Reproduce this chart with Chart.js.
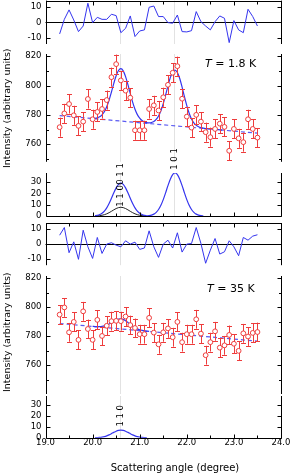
<!DOCTYPE html>
<html>
<head>
<meta charset="utf-8">
<script src="https://cdn.jsdelivr.net/npm/chart.js@4"></script>
<style>
    html, body { margin: 0; padding: 0; background: #fff; }
    #wrap { position: relative; width: 291px; height: 475px; overflow: hidden; }
    #wrap canvas { position: absolute; left: 0; }
</style>
</head>
<body>
<div id="wrap"></div>
<script>
const ANGLE = [19.3, 19.4, 19.5, 19.6, 19.7, 19.8, 19.9, 20.0, 20.1, 20.2, 20.3, 20.4, 20.5, 20.6, 20.7,
    20.8, 20.9, 21.0, 21.1, 21.2, 21.3, 21.4, 21.5, 21.6, 21.7, 21.8, 21.9, 22.0, 22.1, 22.2, 22.3,
    22.4, 22.5, 22.6, 22.7, 22.8, 22.9, 23.0, 23.1, 23.2, 23.3, 23.4, 23.5];

const INT_18K = [771.6, 781.0, 787.4, 779.7, 772.5, 775.4, 790.8, 777.0, 782.0, 784.0, 790.1, 805.7, 814.6,
    803.5, 796.5, 791.7, 769.5, 769.5, 769.5, 784.0, 786.5, 783.0, 792.0, 800.5, 808.7, 813.2, 791.0,
    778.8, 771.3, 780.0, 775.4, 768.2, 764.8, 770.4, 774.0, 771.8, 755.5, 770.4, 764.0, 761.4, 777.0,
    770.4, 764.5];
const INT_35K = [794.8, 799.8, 782.6, 789.8, 777.4, 797.1, 784.9, 777.4, 791.2, 780.1, 787.1, 790.3, 790.5,
    790.3, 793.5, 787.6, 785.6, 781.3, 781.3, 792.6, 782.4, 774.3, 782.6, 785.3, 779.2, 789.8, 775.8,
    781.3, 781.3, 791.6, 781.7, 766.8, 775.8, 783.3, 772.0, 773.6, 780.8, 774.7, 769.8, 781.9, 779.7,
    782.2, 782.8];
const ERR_18K = 6.5;
const ERR_35K = 6.5;

const RES_18K = [-7.5, 1.9, 8.0, 1.5, -6.0, -2.4, 12.3, -0.2, 3.2, 1.9, 1.9, 5.2, 4.3, -6.7, -3.9, 4.1, -9.2,
    -5.6, -4.9, 9.7, 10.5, 3.7, 3.7, -0.2, -0.6, 4.7, -6.0, -6.2, -5.4, 6.9, 0.4, -2.4, -4.9, 0.4, 4.1,
    2.6, -13.1, 1.1, -4.9, -6.7, 8.4, 3.7, -2.4];
const RES_35K = [5.9, 11.0, -5.7, 1.5, -10.1, 9.2, -1.8, -9.5, 4.4, -6.2, 0, 0.9, -0.7, -1.8, 2.2, 0, 1.3,
    -3.5, -2.6, 8.8, -1.8, -8.8, 0, 2.6, -2.6, 7.5, -5.3, 0, 0.4, 11.0, 0.4, -12.7, -4.0, 3.7, -6.6,
    -5.1, 2.2, -1.8, -7.7, 4.4, 2.6, 5.3, 6.2];

// dashed background lines (end points)
const BG_X = [19.3, 23.5];
const BG_18K = [779.5, 767.5];
const BG_35K = [788.7, 776.5];

// fitted curves
const FIT_18K_X = [19.95, 20.00, 20.05, 20.10, 20.15, 20.20, 20.25, 20.30, 20.35, 20.40, 20.45, 20.50, 20.55,
    20.60, 20.65, 20.70, 20.75, 20.80, 20.85, 20.90, 20.95, 21.00, 21.05, 21.10, 21.15, 21.20, 21.25,
    21.30, 21.35, 21.40, 21.45, 21.50, 21.55, 21.60, 21.65, 21.70, 21.75, 21.80, 21.85, 21.90, 21.95,
    22.00, 22.05, 22.10, 22.15, 22.20, 22.25, 22.30, 22.35, 22.40, 22.50, 22.75];
const FIT_18K = [777.7, 777.64, 777.70, 777.98, 778.68, 780.05, 782.17, 785.53, 790.10, 795.60, 801.45, 806.66,
    810.27, 811.48, 809.98, 806.09, 800.60, 794.45, 788.67, 783.82, 780.17, 777.76, 776.11, 775.19,
    774.70, 774.57, 774.78, 775.48, 776.87, 779.24, 782.82, 787.69, 793.55, 799.80, 805.36, 809.20,
    810.50, 808.92, 804.78, 798.94, 792.41, 786.27, 781.10, 777.24, 774.59, 772.88, 771.87, 771.29,
    770.94, 770.69, 770.36, 769.64];
const FIT_35K_X = [20.00, 20.05, 20.10, 20.15, 20.20, 20.25, 20.30, 20.35, 20.40, 20.45, 20.50, 20.55, 20.60,
    20.65, 20.70, 20.75, 20.80, 20.85, 20.90, 20.95, 21.00, 21.05, 21.10, 21.15, 21.20];
const FIT_35K = [786.70, 786.60, 786.53, 786.55, 786.69, 787.01, 787.54, 788.33, 789.28, 790.32, 791.22, 791.81,
    791.93, 791.52, 790.64, 789.45, 788.12, 786.88, 785.80, 784.98, 784.37, 783.94, 783.63, 783.41, 783.19];

// peak components
const PEAK_A_X = [20.05, 20.10, 20.15, 20.20, 20.25, 20.30, 20.35, 20.40, 20.45, 20.50, 20.55, 20.60, 20.65,
    20.70, 20.75, 20.80, 20.85, 20.90, 20.95, 21.00, 21.05, 21.10, 21.15];
const PEAK_A = [0.27, 0.61, 1.28, 2.47, 4.38, 7.22, 11.05, 15.63, 20.5, 24.85, 27.9, 29, 27.9, 24.85, 20.5,
    15.63, 11.05, 7.22, 4.38, 2.47, 1.28, 0.61, 0.27];
const PEAK_B_X = [20.10, 20.15, 20.20, 20.25, 20.30, 20.35, 20.40, 20.45, 20.50, 20.55, 20.60, 20.65, 20.70,
    20.75, 20.80, 20.85, 20.90, 20.95, 21.00, 21.05, 21.10];
const PEAK_B = [0.16, 0.34, 0.65, 1.16, 1.92, 2.93, 4.15, 5.44, 6.6, 7.41, 7.7, 7.41, 6.6, 5.44, 4.15, 2.93,
    1.92, 1.16, 0.65, 0.34, 0.16];
const PEAK_C_X = [21.15, 21.20, 21.25, 21.30, 21.35, 21.40, 21.45, 21.50, 21.55, 21.60, 21.65, 21.70, 21.75,
    21.80, 21.85, 21.90, 21.95, 22.00, 22.05, 22.10, 22.15, 22.20, 22.25, 22.30, 22.35];
const PEAK_C = [0.15, 0.36, 0.80, 1.67, 3.23, 5.74, 9.46, 14.48, 20.48, 26.87, 32.57, 36.56, 38, 36.56, 32.57,
    26.87, 20.48, 14.48, 9.46, 5.74, 3.23, 1.67, 0.80, 0.36, 0.15];
const PEAK_35K = [0.07, 0.15, 0.31, 0.60, 1.06, 1.74, 2.67, 3.77, 4.95, 6.0, 6.73, 7, 6.73, 6.0, 4.95, 3.77,
    2.67, 1.74, 1.06, 0.60, 0.31, 0.15, 0.07];

const REFL_POS = [20.58, 21.73];
const X_TICKS = [19, 19.5, 20, 20.5, 21, 21.5, 22, 22.5, 23, 23.5, 24];
const X_LABELS = [19, 20, 21, 22, 23, 24];
const MAIN_TICKS = [760, 780, 800, 820];
const MAIN_MINOR = [750, 770, 790, 810];
const RES_TICKS = [-10, 0, 10];
const PEAK_TICKS = [0, 10, 20, 30];

const BLUE = '#3434ee';
const RED = '#ee3c3c';
const FONT = '"DejaVu Sans", sans-serif';

const wrap = document.getElementById('wrap');
const pts = (xs, ys) => xs.map((x, i) => ({ x: x, y: ys[i] }));

function curve(xs, ys, color, width, smooth, dash) {
    return {
        data: pts(xs, ys), showLine: true, borderColor: color, borderWidth: width,
        borderDash: dash || [], pointRadius: 0, fill: false, tension: 0,
        cubicInterpolationMode: smooth ? 'monotone' : 'default'
    };
}

function points(ys) {
    return {
        data: pts(ANGLE, ys), showLine: false, pointRadius: 2.4, pointBorderWidth: 1,
        pointBackgroundColor: '#fff', pointBorderColor: RED
    };
}

function panel(p) {
    const c = document.createElement('canvas');
    const plotH = p.bottom - p.top;
    const canvasTop = p.top - p.padTop;
    c.width = 291;
    c.height = Math.ceil(plotH + p.padTop + p.padBottom);
    c.style.top = canvasTop + 'px';
    wrap.appendChild(c);

    const px = v => Math.round(v) + 0.5;
    const frame = {
        id: 'frame' + p.top,
        beforeDatasetsDraw(chart) {
            const { ctx, chartArea: a, scales: { x, y } } = chart;
            ctx.save();
            ctx.strokeStyle = '#e2e2e2';
            ctx.lineWidth = 1;
            (p.refs || []).forEach(v => {
                const xx = px(x.getPixelForValue(v));
                ctx.beginPath(); ctx.moveTo(xx, a.top); ctx.lineTo(xx, a.bottom); ctx.stroke();
            });
            if (p.zero) {
                const yy = px(y.getPixelForValue(0));
                ctx.strokeStyle = '#000';
                ctx.beginPath(); ctx.moveTo(a.left, yy); ctx.lineTo(a.right, yy); ctx.stroke();
            }
            ctx.restore();
        },
        beforeDatasetDraw(chart, args) {
            if (!p.err || args.index !== 0) return;
            const { ctx, scales: { y } } = chart;
            const meta = chart.getDatasetMeta(0);
            ctx.save();
            ctx.strokeStyle = RED;
            ctx.lineWidth = 1;
            meta.data.forEach((el, i) => {
                const v = p.values[i];
                const y1 = y.getPixelForValue(v + p.err), y2 = y.getPixelForValue(v - p.err);
                const xx = px(el.x);
                ctx.beginPath();
                ctx.moveTo(xx, y1); ctx.lineTo(xx, y2);
                ctx.moveTo(xx - 2.5, Math.round(y1) + 0.5); ctx.lineTo(xx + 2.5, Math.round(y1) + 0.5);
                ctx.moveTo(xx - 2.5, Math.round(y2) + 0.5); ctx.lineTo(xx + 2.5, Math.round(y2) + 0.5);
                ctx.stroke();
            });
            ctx.restore();
        },
        afterDatasetsDraw(chart) {
            const { ctx, chartArea: a, scales: { x, y } } = chart;
            const L = px(a.left), R = px(a.right);
            ctx.save();
            ctx.strokeStyle = '#000';
            ctx.fillStyle = '#000';
            ctx.lineWidth = 1;
            ctx.beginPath();
            ctx.moveTo(L, a.top); ctx.lineTo(L, a.bottom);
            ctx.moveTo(R, a.top); ctx.lineTo(R, a.bottom);
            if (p.topLine) { ctx.moveTo(L, px(a.top)); ctx.lineTo(R, px(a.top)); }
            if (p.bottomLine) { ctx.moveTo(L, px(a.bottom)); ctx.lineTo(R, px(a.bottom)); }
            p.yTicks.forEach(v => {
                const yy = px(y.getPixelForValue(v));
                ctx.moveTo(L, yy); ctx.lineTo(L + 4, yy);
                ctx.moveTo(R, yy); ctx.lineTo(R - 4, yy);
            });
            (p.yMinor || []).forEach(v => {
                const yy = px(y.getPixelForValue(v));
                ctx.moveTo(L, yy); ctx.lineTo(L + 2.5, yy);
                ctx.moveTo(R, yy); ctx.lineTo(R - 2.5, yy);
            });
            X_TICKS.forEach(v => {
                const xx = px(x.getPixelForValue(v));
                const len = Number.isInteger(v) ? 4 : 3;
                if (p.xTop) { ctx.moveTo(xx, px(a.top)); ctx.lineTo(xx, px(a.top) + len); }
                if (p.xBottom) { ctx.moveTo(xx, px(a.bottom)); ctx.lineTo(xx, px(a.bottom) - len); }
            });
            ctx.stroke();

            ctx.font = '8.5px ' + FONT;
            ctx.textAlign = 'right';
            ctx.textBaseline = 'middle';
            p.yTicks.forEach(v => ctx.fillText(String(v), a.left - 4, y.getPixelForValue(v)));
            if (p.xLabels) {
                ctx.textAlign = 'center';
                X_LABELS.forEach(v => ctx.fillText(v.toFixed(1), x.getPixelForValue(v), 442.7 - canvasTop));
                ctx.font = '10px ' + FONT;
                ctx.fillText('Scattering angle (degree)', 175, 469 - canvasTop);
            }
            (p.rotated || []).forEach(t => {
                ctx.save();
                ctx.font = (t.size || 8.5) + 'px ' + FONT;
                ctx.translate(t.x, t.y - canvasTop);
                ctx.rotate(-Math.PI / 2);
                ctx.textAlign = 'center';
                ctx.textBaseline = 'middle';
                ctx.fillText(t.text, 0, 0);
                ctx.restore();
            });
            if (p.temp) {
                ctx.textAlign = 'left';
                ctx.textBaseline = 'alphabetic';
                ctx.font = 'italic 11px ' + FONT;
                ctx.fillText('T', p.temp.x, p.temp.y - canvasTop);
                const w = ctx.measureText('T').width;
                ctx.font = '11px ' + FONT;
                ctx.fillText(' = ' + p.temp.text, p.temp.x + w, p.temp.y - canvasTop);
            }
            ctx.restore();
        }
    };

    new Chart(c, {
        type: 'scatter',
        data: { datasets: p.datasets },
        options: {
            responsive: false,
            animation: false,
            events: [],
            layout: { padding: { left: 45.5, right: 10, top: p.padTop, bottom: c.height - p.padTop - plotH } },
            scales: {
                x: { type: 'linear', min: 19, max: 24, display: false },
                y: { type: 'linear', min: p.ymin, max: p.ymax, display: false }
            },
            plugins: { legend: { display: false }, tooltip: { enabled: false } }
        },
        plugins: [frame]
    });
}

// 1.8 K residuals
panel({
    top: 0.6, bottom: 44, padTop: 0.6, padBottom: 6, ymin: -14, ymax: 14,
    yTicks: RES_TICKS, topLine: true, xTop: true, zero: true, refs: REFL_POS,
    datasets: [curve(ANGLE, RES_18K, BLUE, 1, false)]
});

// 1.8 K data
panel({
    top: 53.8, bottom: 161.6, padTop: 8, padBottom: 8, ymin: 748, ymax: 821.5,
    yTicks: MAIN_TICKS, yMinor: MAIN_MINOR, refs: REFL_POS,
    err: ERR_18K, values: INT_18K,
    temp: { text: '1.8 K', x: 205, y: 67 },
    rotated: [{ text: 'Intensity (arbitrary units)', x: 7.5, y: 108, size: 9.5 }],
    datasets: [
        points(INT_18K),
        curve(FIT_18K_X, FIT_18K, BLUE, 1.2, true),
        curve(BG_X, BG_18K, '#5a5af2', 1.2, false, [4, 3])
    ]
});

// 1.8 K peak components
panel({
    top: 173, bottom: 216, padTop: 30, padBottom: 4, ymin: 0, ymax: 38,
    yTicks: PEAK_TICKS, bottomLine: true, xBottom: true, refs: REFL_POS,
    rotated: [
        { text: '0 1 1', x: 120.5, y: 174 },
        { text: '1 1 0', x: 120.5, y: 196 },
        { text: '1 0 1', x: 174.5, y: 159 }
    ],
    datasets: [
        curve(PEAK_A_X, PEAK_A, BLUE, 1.2, true),
        curve(PEAK_B_X, PEAK_B, '#222', 1, true),
        curve(PEAK_C_X, PEAK_C, BLUE, 1.2, true)
    ]
});

// 35 K residuals
panel({
    top: 222.9, bottom: 265.1, padTop: 4, padBottom: 6, ymin: -14, ymax: 14,
    yTicks: RES_TICKS, topLine: true, xTop: true, zero: true, refs: [REFL_POS[0]],
    datasets: [curve(ANGLE, RES_35K, BLUE, 1, false)]
});

// 35 K data
panel({
    top: 275.8, bottom: 396.2, padTop: 8, padBottom: 2, ymin: 740, ymax: 821.5,
    yTicks: MAIN_TICKS, yMinor: MAIN_MINOR, refs: [REFL_POS[0]],
    err: ERR_35K, values: INT_35K,
    temp: { text: '35 K', x: 207, y: 291.5 },
    rotated: [{ text: 'Intensity (arbitrary units)', x: 7.5, y: 332, size: 9.5 }],
    datasets: [
        points(INT_35K),
        curve(FIT_35K_X, FIT_35K, BLUE, 1.2, true),
        curve(BG_X, BG_35K, '#5a5af2', 1.2, false, [4, 3])
    ]
});

// 35 K peak component
panel({
    top: 396.2, bottom: 438, padTop: 2, padBottom: 37, ymin: 0, ymax: 38,
    yTicks: PEAK_TICKS, bottomLine: true, xBottom: true, xLabels: true, refs: [REFL_POS[0]],
    rotated: [{ text: '1 1 0', x: 120.5, y: 416 }],
    datasets: [curve(PEAK_A_X, PEAK_35K, BLUE, 1.2, true)]
});
</script>
</body>
</html>
